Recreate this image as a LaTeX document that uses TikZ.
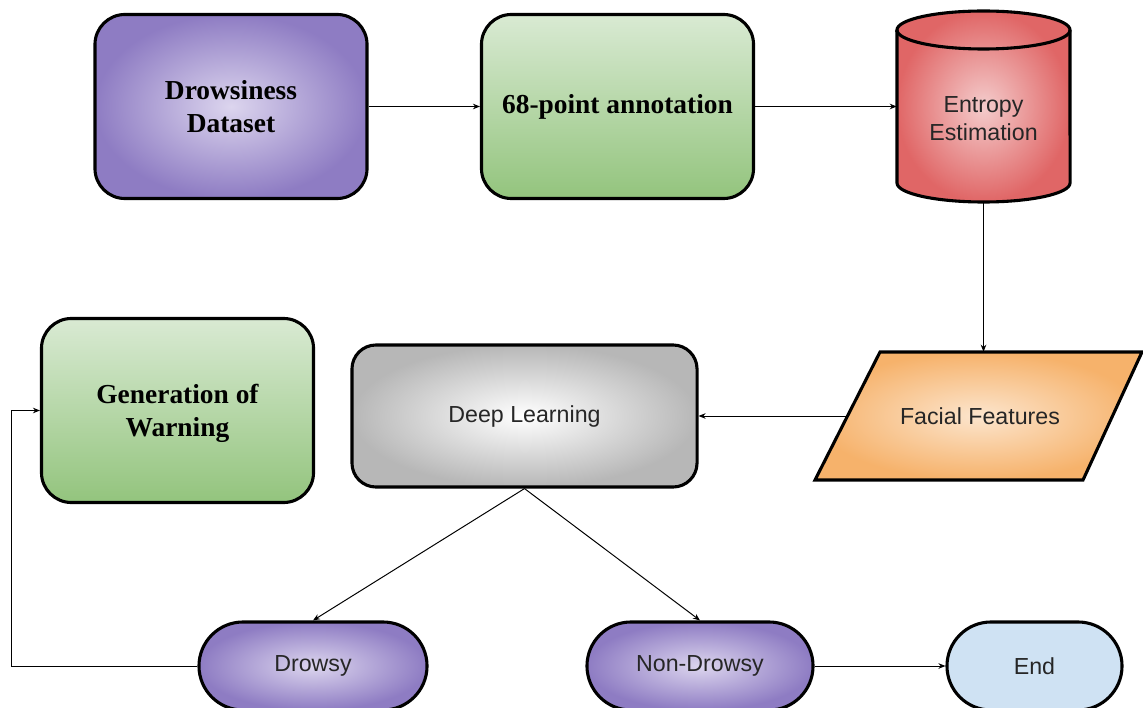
\documentclass[tikz,border=0pt]{standalone}
\usepackage{fontspec}
\setmainfont{Liberation Serif}
\newfontfamily\arialfont{Liberation Sans}
\usetikzlibrary{arrows.meta}

\definecolor{lavdark}{HTML}{8E7CC3}
\definecolor{lavlight}{HTML}{DCD5EE}
\definecolor{greenlight}{HTML}{D9EAD3}
\definecolor{greendark}{HTML}{93C47D}
\definecolor{reddark}{HTML}{E06666}
\definecolor{redlight}{HTML}{F4CCCC}
\definecolor{orangedark}{HTML}{F6B26B}
\definecolor{orangelight}{HTML}{FCE5CD}
\definecolor{greydark}{HTML}{B7B7B7}
\definecolor{paleblue}{HTML}{CFE2F3}

\tikzset{
  box/.style={draw, line width=2.2pt, rounded corners=0.75cm, text=black, align=center},
  bigbox/.style={box, minimum width=6.8cm, minimum height=4.6cm,
    font=\bfseries\fontsize{19.5}{23.5}\selectfont},
  sans/.style={font=\arialfont\fontsize{16.5}{20}\selectfont, text=black!85, align=center},
  pill/.style={box, sans, rounded corners=1.1cm, minimum height=2.2cm},
  purplefill/.style={inner color=lavlight, outer color=lavdark},
  greenfill/.style={top color=greenlight, bottom color=greendark},
  redfill/.style={inner color=redlight, outer color=reddark},
  orangefill/.style={inner color=orangelight, outer color=orangedark},
  greyfill/.style={inner color=white, outer color=greydark},
  arr/.style={-{Stealth[length=5pt,width=4pt]}, line width=0.7pt}
}

\begin{document}
\begin{tikzpicture}[x=0.025cm, y=-0.025cm]
  \useasboundingbox (0,0) rectangle (1143,708);

  % cylinder and parallelogram outlines
  \shade[redfill, draw, line width=2.2pt]
    (897,30) -- (897,183)
    arc[start angle=180, end angle=360, x radius=2.1625cm, y radius=0.475cm]
    -- (1070,30)
    arc[start angle=0, end angle=180, x radius=2.1625cm, y radius=0.475cm] -- cycle;
  \draw[line width=2.2pt] (897,30)
    arc[start angle=180, end angle=360, x radius=2.1625cm, y radius=0.475cm];
  \shade[orangefill, draw, line width=2.2pt]
    (880,352) -- (1142,352) -- (1083,480) -- (815,480) -- cycle;

  \draw
    (231,106.5) node[bigbox, purplefill] (dataset) {Drowsiness\\Dataset}
    (617.5,106.5) node[bigbox, greenfill] (annot) {68-point annotation}
    (983.5,119) node[sans, minimum width=4.325cm, minimum height=4.15cm] (entropy) {Entropy\\Estimation}
    (980,416) node[sans, minimum width=6.625cm, minimum height=3.2cm] (feat) {Facial Features}
    (524.5,416) node[box, sans, greyfill, rounded corners=0.6cm,
      minimum width=8.625cm, minimum height=3.55cm] (deep) {Deep Learning}
    (177.5,410.5) node[bigbox, greenfill, text depth=-0.15cm] (warning) {Generation of\\Warning}
    (313,666) node[pill, purplefill, minimum width=5.7cm] (drowsy) {Drowsy}
    (700,666) node[pill, purplefill, minimum width=5.65cm] (nondrowsy) {Non-Drowsy}
    (1034.5,666) node[pill, fill=paleblue, minimum width=4.375cm] (endbox) {End};
  \coordinate (loopx) at (11,0);

  \begin{scope}[arr]
    \draw (dataset) -- (annot);
    \draw (annot.east) -- (annot.east -| entropy.west);
    \draw (entropy.south) -- (entropy.south |- feat.north);
    \draw (feat.west) -- (deep.east);
    \draw (deep.south) -- (drowsy.north);
    \draw (deep.south) -- (nondrowsy.north);
    \draw (nondrowsy) -- (endbox);
    \draw (drowsy.west) -- (drowsy.west -| loopx) |- (warning.west);
  \end{scope}
\end{tikzpicture}
\end{document}
